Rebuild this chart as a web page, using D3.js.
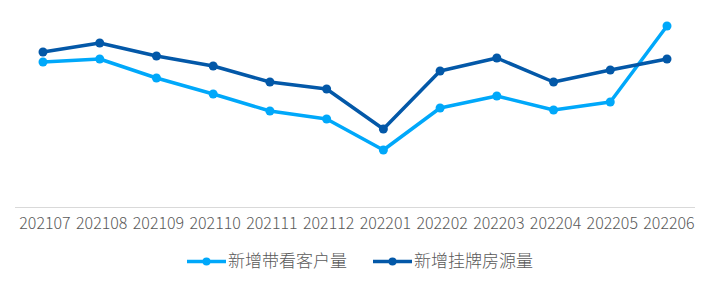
<!DOCTYPE html>
<html><head><meta charset="utf-8">
<script src="https://cdn.jsdelivr.net/npm/d3@7"></script>
<style>body{margin:0;background:#fff}svg{display:block}text{font-family:"Noto Sans CJK SC","Noto Sans",sans-serif;font-weight:300}</style>
</head><body><svg id="c" width="708" height="285"></svg>
<script>
const categories = ["202107","202108","202109","202110","202111","202112","202201","202202","202203","202204","202205","202206"];
const seriesNames = ["新增带看客户量","新增挂牌房源量"];
const viewings = [145,148,129,113,96,88,57,99,111,97,105,181];
const listings = [155,164,151,141,125,118,78,136,149,125,137,148];
const colors = ["#00A8FA","#0358A8"];

const svg = d3.select("#c");
const x = d3.scalePoint().domain(categories).range([43,667]);
const y = d3.scaleLinear().domain([0,200]).range([207,7]);

svg.append("line").attr("x1",15).attr("x2",695).attr("y1",207.5).attr("y2",207.5)
  .attr("stroke","#d9d9d9").attr("stroke-width",1);

const xAxis = svg.append("g").attr("transform","translate(1.5,207)")
  .call(d3.axisBottom(x).tickSize(0).tickPadding(11));
xAxis.select(".domain").remove();
xAxis.selectAll("text").attr("fill","#595959").attr("font-size",16)
  .style("font-family","'Noto Sans CJK SC',sans-serif").style("font-weight",300);

const data = [viewings, listings];
const line = d3.line().x((d,i)=>x(categories[i])).y(d=>y(d));
data.forEach((s,k)=>{
  svg.append("path").datum(s).attr("d",line).attr("fill","none")
    .attr("stroke",colors[k]).attr("stroke-width",3.5).attr("stroke-linejoin","round");
  svg.append("g").selectAll("circle").data(s).join("circle")
    .attr("cx",(d,i)=>x(categories[i])).attr("cy",d=>y(d)).attr("r",4.5).attr("fill",colors[k]);
});

const legX = [187,373];
seriesNames.forEach((n,k)=>{
  const g = svg.append("g").attr("transform",`translate(${legX[k]},261.5)`);
  g.append("line").attr("x1",0).attr("x2",39).attr("stroke",colors[k]).attr("stroke-width",3.5);
  g.append("circle").attr("cx",19.5).attr("r",4).attr("fill",colors[k]);
  g.append("text").attr("x",41).attr("y",0).attr("dy","0.35em").attr("font-size",17)
    .attr("fill","#595959").text(n);
});
</script></body></html>
